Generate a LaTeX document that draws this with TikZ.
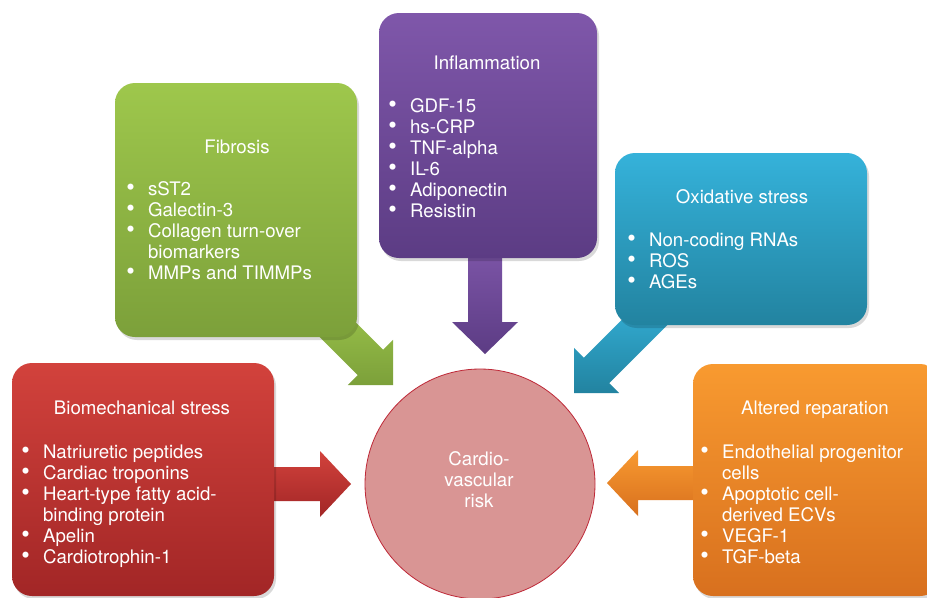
\documentclass[tikz,border=0pt]{standalone}
\usepackage{fontspec}
\setmainfont{TeX Gyre Heros}
\definecolor{redA}{RGB}{210,66,60}
\definecolor{redB}{RGB}{162,38,38}
\definecolor{grnA}{RGB}{158,199,76}
\definecolor{grnB}{RGB}{124,160,58}
\definecolor{purA}{RGB}{127,87,170}
\definecolor{purB}{RGB}{92,60,132}
\definecolor{bluA}{RGB}{53,178,218}
\definecolor{bluB}{RGB}{34,131,160}
\definecolor{orgA}{RGB}{248,154,48}
\definecolor{orgB}{RGB}{216,112,30}
\definecolor{cvFill}{RGB}{217,149,148}
\definecolor{cvLine}{RGB}{190,40,55}
\newcommand\mybox[6]{%
  \fill[black,opacity=0.15,rounded corners=15pt] (#1+2,#2+3) rectangle (#3+2,#4+3);
  \shade[top color=#5,bottom color=#6,rounded corners=15pt] (#1,#2) rectangle (#3,#4);}
\newcommand\bul{\smash{\raisebox{-0.3pt}{\scalebox{1.3}{\textbullet}}}}
\newcommand\blist[1]{\begin{tabular}[t]{@{}l@{\hspace{10pt}}l@{}}#1\end{tabular}}
\begin{document}
\begin{tikzpicture}[x=0.75pt,y=-0.75pt,
  lbl/.style={text=white, font=\fontsize{14}{15.75}\selectfont, inner sep=0pt},
  ttl/.style={lbl, anchor=base},
  lst/.style={lbl, anchor=base west}]
\useasboundingbox (0,0) rectangle (927,597);
\fill[white] (0,0) rectangle (927,597);
\begin{scope}
\clip (0,0) rectangle (927,597);
% block arrows
\shade[top color=redA,bottom color=redB] (250,467) -- (320,467) -- (320,451) -- (351,484) -- (320,517) -- (320,501) -- (250,501) -- cycle;
\shade[top color=orgA,bottom color=orgB] (720,466) -- (638,466) -- (638,450) -- (607,483) -- (638,516) -- (638,500) -- (720,500) -- cycle;
\shade[top color=purA,bottom color=purB] (468,240) -- (468,322) -- (452,322) -- (485,354) -- (518,322) -- (502,322) -- (502,240) -- cycle;
\shade[top color=grnA,bottom color=grnB] (326.5,293.1) -- (383.1,349.7) -- (393,339.8) -- (393,385) -- (347.8,385) -- (357.7,375.1) -- (301.1,318.5) -- cycle;
\shade[top color=bluA,bottom color=bluB] (672.9,319.5) -- (609.3,383.1) -- (619.2,393) -- (574,393) -- (574,347.8) -- (583.9,357.7) -- (647.5,294.1) -- cycle;
% boxes
\mybox{12}{363}{274}{596}{redA}{redB}
\mybox{115}{83}{357}{337}{grnA}{grnB}
\mybox{379}{13}{597}{258}{purA}{purB}
\mybox{615}{153}{867}{325}{bluA}{bluB}
\mybox{693}{364}{940}{596}{orgA}{orgB}
\end{scope}
% circle
\node[circle, draw=cvLine, line width=0.6pt, fill=cvFill, minimum size=172.5pt, inner sep=0pt] (cv) at (480,484) {};
\node[lbl, align=center] (cvT) at (479,480) {Cardio-\\vascular\\risk};
% texts
\node[ttl] (bioT) at (142,414) {Biomechanical stress};
\node[lst] (bioL) at (21,458) {\blist{\bul & Natriuretic peptides\\ \bul & Cardiac troponins\\ \bul & Heart-type fatty acid-\\ & binding protein\\ \bul & Apelin\\ \bul & Cardiotrophin-1}};
\node[ttl] (fibT) at (237,153) {Fibrosis};
\node[lst] (fibL) at (126,195) {\blist{\bul & sST2\\ \bul & Galectin-3\\ \bul & Collagen turn-over\\ & biomarkers\\ \bul & MMPs and TIMMPs}};
\node[ttl] (infT) at (487,69) {Inflammation};
\node[lst] (infL) at (388,112) {\blist{\bul & GDF-15\\ \bul & hs-CRP\\ \bul & TNF-alpha\\ \bul & IL-6\\ \bul & Adiponectin\\ \bul & Resistin}};
\node[ttl] (oxT) at (742,203) {Oxidative stress};
\node[lst] (oxL) at (627,246) {\blist{\bul & Non-coding RNAs\\ \bul & ROS\\ \bul & AGEs}};
\node[ttl] (altT) at (815,414) {Altered reparation};
\node[lst] (altL) at (700,458) {\blist{\bul & Endothelial progenitor\\ & cells\\ \bul & Apoptotic cell-\\ & derived ECVs\\ \bul & VEGF-1\\ \bul & TGF-beta}};
\end{tikzpicture}
\end{document}
